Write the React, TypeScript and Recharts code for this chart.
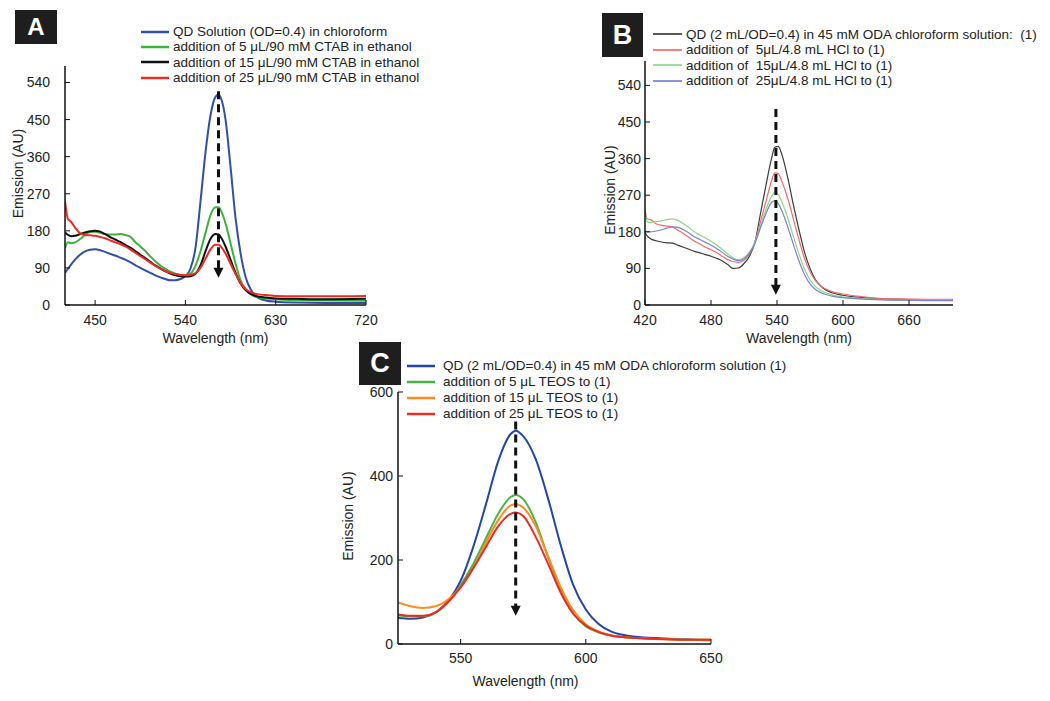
import React from 'react';
import { LineChart, Line, XAxis, YAxis, Legend, ReferenceLine, ReferenceDot } from 'recharts';

const FONT = '"Liberation Sans", Arial, Helvetica, sans-serif';

// ---- panel A: CTAB additions ----
const nmA = [420, 423, 426, 430, 435, 440, 445, 450, 455, 460, 465, 470, 475, 480, 485, 490, 495, 500, 505, 510, 515, 520, 525, 530, 535, 540, 545, 550, 555, 560, 565, 570, 573, 576, 580, 585, 590, 595, 600, 605, 610, 620, 630, 650, 680, 720];
const qdA = [78, 88, 98, 110, 122, 130, 134, 135, 133, 129, 124, 120, 115, 110, 104, 97, 90, 84, 78, 72, 67, 63, 60, 60, 63, 70, 88, 138, 250, 370, 460, 505, 510, 498, 450, 335, 210, 125, 68, 38, 22, 11, 8, 6, 5, 5];
const ctab5 = [138, 152, 150, 152, 160, 170, 177, 178, 175, 172, 171, 171, 172, 170, 166, 153, 142, 131, 118, 106, 96, 88, 81, 76, 73, 72, 76, 95, 130, 175, 218, 237, 237, 226, 198, 150, 100, 60, 38, 26, 20, 16, 14, 12, 11, 10];
const ctab15 = [176, 170, 167, 168, 172, 176, 179, 180, 178, 172, 165, 159, 153, 146, 139, 131, 122, 114, 105, 96, 89, 82, 76, 72, 70, 69, 70, 76, 96, 130, 160, 172, 171, 162, 142, 110, 78, 52, 36, 27, 22, 18, 16, 15, 14, 15];
const ctab25 = [252, 208, 202, 188, 174, 170, 169, 168, 165, 162, 157, 152, 148, 142, 135, 127, 119, 111, 103, 95, 88, 82, 78, 75, 73, 72, 73, 77, 90, 112, 135, 146, 146, 140, 125, 100, 75, 53, 39, 31, 27, 24, 22, 21, 21, 22];
const namesA = [
  'QD Solution (OD=0.4) in chloroform',
  'addition of 5 \u03bcL/90 mM CTAB in ethanol',
  'addition of 15 \u03bcL/90 mM CTAB in ethanol',
  'addition of 25 \u03bcL/90 mM CTAB in ethanol',
];
const colorsA = ['#2f4fa8', '#3cb43c', '#111111', '#ee2a24'];
const yTicksA = [0, 90, 180, 270, 360, 450, 540];
const xTicksA = [450, 540, 630, 720];

// ---- panel B: HCl additions ----
const nmB = [420, 422, 425, 430, 435, 440, 445, 450, 455, 460, 465, 470, 475, 480, 485, 490, 495, 500, 505, 510, 515, 520, 525, 530, 535, 538, 541, 545, 550, 555, 560, 565, 570, 575, 580, 590, 600, 615, 630, 650, 675, 700];
const odaB = [178, 170, 163, 158, 155, 153, 152, 147, 142, 137, 132, 128, 124, 120, 115, 109, 100, 90, 91, 102, 120, 155, 225, 295, 360, 388, 390, 365, 310, 245, 185, 130, 90, 62, 46, 30, 24, 19, 16, 14, 13, 12];
const hcl5 = [235, 212, 210, 200, 196, 194, 192, 184, 176, 166, 157, 150, 142, 136, 129, 120, 112, 107, 105, 110, 125, 155, 205, 255, 305, 325, 323, 300, 260, 210, 160, 115, 82, 60, 46, 33, 27, 21, 17, 15, 14, 14];
const hcl15 = [238, 205, 203, 205, 207, 210, 212, 208, 200, 190, 180, 172, 165, 157, 148, 137, 126, 116, 111, 116, 130, 155, 195, 235, 267, 277, 272, 250, 212, 168, 125, 88, 62, 45, 35, 25, 20, 16, 14, 12, 12, 12];
const hcl25 = [182, 180, 180, 182, 185, 189, 192, 191, 185, 177, 168, 161, 154, 147, 139, 130, 120, 113, 109, 114, 128, 152, 190, 225, 252, 256, 250, 228, 190, 148, 108, 75, 52, 38, 30, 22, 18, 15, 13, 12, 11, 11];
const namesB = [
  'QD (2 mL/OD=0.4) in 45 mM ODA chloroform solution:  (1)',
  'addition of  5\u03bcL/4.8 mL HCl to (1)',
  'addition of  15\u03bcL/4.8 mL HCl to (1)',
  'addition of  25\u03bcL/4.8 mL HCl to (1)',
];
const colorsB = ['#3a3a3a', '#f46a6a', '#88d888', '#7a80d8'];
const yTicksB = [0, 90, 180, 270, 360, 450, 540];
const xTicksB = [420, 480, 540, 600, 660];

// ---- panel C: TEOS additions ----
const nmC = [525, 530, 535, 540, 545, 550, 555, 560, 565, 570, 572, 575, 580, 585, 590, 595, 600, 605, 610, 620, 635, 650];
const odaC = [62, 60, 63, 75, 102, 150, 230, 330, 435, 500, 508, 495, 440, 345, 235, 140, 82, 48, 30, 17, 12, 9];
const teos5 = [68, 66, 66, 75, 100, 140, 190, 250, 310, 350, 355, 345, 290, 205, 128, 72, 42, 28, 20, 14, 11, 10];
const teos15 = [99, 90, 86, 90, 106, 135, 180, 240, 295, 330, 333, 325, 280, 208, 135, 80, 47, 30, 21, 14, 11, 10];
const teos25 = [70, 67, 67, 75, 100, 135, 180, 230, 280, 310, 313, 305, 255, 190, 122, 72, 44, 29, 20, 14, 11, 10];
const namesC = [
  'QD (2 mL/OD=0.4) in 45 mM ODA chloroform solution (1)',
  'addition of 5 \u03bcL TEOS to (1)',
  'addition of 15 \u03bcL TEOS to (1)',
  'addition of 25 \u03bcL TEOS to (1)',
];
const colorsC = ['#2446a8', '#46b446', '#ff8a1e', '#ee2a24'];
const yTicksC = [0, 200, 400, 600];
const xTicksC = [550, 600, 650];

// arrows: [wavelength, top of dashed line, bottom of dashed line, arrow tip]
const arrowA = [573, 519, 90, 66];
const arrowB = [539, 482, 47, 25];
const arrowC = [572, 530, 90, 67];

const toRows = (nm: number[], series: number[][]) =>
  nm.map((x, i) => {
    const row: Record<string, number> = { nm: x };
    series.forEach((s, k) => { row['s' + k] = s[i]; });
    return row;
  });

const dataA = toRows(nmA, [qdA, ctab5, ctab15, ctab25]);
const dataB = toRows(nmB, [odaB, hcl5, hcl15, hcl25]);
const dataC = toRows(nmC, [odaC, teos5, teos15, teos25]);

// legend keeps the order of the series, not alphabetical
const LegendRows = ({ payload, names, lineW, gap, rowH, lineWidth }: any) => {
  const items = [...(payload || [])].sort((a: any, b: any) => names.indexOf(a.value) - names.indexOf(b.value));
  return (
    <div style={{ fontSize: 13.5, color: '#222', fontFamily: FONT }}>
      {items.map((p: any) => (
        <div key={p.value} style={{ display: 'flex', alignItems: 'center', height: rowH }}>
          <svg width={lineW} height={4} style={{ display: 'block' }}>
            <line x1={0} y1={2} x2={lineW} y2={2} stroke={p.color} strokeWidth={lineWidth} />
          </svg>
          <span style={{ marginLeft: gap, whiteSpace: 'pre', lineHeight: `${rowH}px` }}>{p.value}</span>
        </div>
      ))}
    </div>
  );
};

const ArrowHead = (props: any) => {
  const { cx, cy } = props;
  if (cx == null || cy == null) return null;
  return <path d={`M${cx - 5},${cy - 10} L${cx + 5},${cy - 10} L${cx},${cy} Z`} fill="#111" />;
};

const PanelTag = ({ letter, left, top, w, h, size }: any) => (
  <div
    style={{
      position: 'absolute', left, top, width: w, height: h, background: '#1e1e1e', color: '#fff',
      fontFamily: FONT, fontWeight: 'bold', fontSize: size, display: 'flex', alignItems: 'center', justifyContent: 'center',
    }}
  >
    {letter}
  </div>
);

const axisStyle = { stroke: '#111', strokeWidth: 1.5 };
const tickStyle = { fontSize: 14, fill: '#222' };

interface PanelProps {
  data: Record<string, number>[];
  names: string[];
  colors: string[];
  width: number;
  height: number;
  margin: { top: number; right: number; left: number; bottom: number };
  yWidth: number;
  xHeight: number;
  xDomain: [number, number];
  yDomain: [number, number];
  xTicks: number[];
  yTicks: number[];
  yTickMargin: number;
  xTickMargin: number;
  strokeWidth: number;
  arrow: number[];
  legendPos: { left: number; top: number; lineW: number; gap: number; rowH: number };
  yLabelDx: number;
  yLabelDy: number;
  xLabelDx: number;
  xLabelOffset: number;
}

const Panel = (p: PanelProps) => (
  <LineChart width={p.width} height={p.height} data={p.data} margin={p.margin}>
    <XAxis
      type="number"
      dataKey="nm"
      domain={p.xDomain}
      ticks={p.xTicks}
      allowDataOverflow
      height={p.xHeight}
      axisLine={axisStyle}
      tickLine={{ stroke: '#111' }}
      tickSize={-5}
      tickMargin={p.xTickMargin}
      tick={tickStyle}
      label={{ value: 'Wavelength (nm)', position: 'insideBottom', offset: p.xLabelOffset, dx: p.xLabelDx, fontSize: 14, fill: '#222' }}
    />
    <YAxis
      type="number"
      domain={p.yDomain}
      ticks={p.yTicks}
      allowDataOverflow
      width={p.yWidth}
      axisLine={axisStyle}
      tickLine={{ stroke: '#111' }}
      tickSize={-5}
      tickMargin={p.yTickMargin}
      tick={tickStyle}
      label={{ value: 'Emission (AU)', angle: -90, position: 'center', dx: p.yLabelDx, dy: p.yLabelDy, fontSize: 14, fill: '#222' }}
    />
    <Legend
      layout="horizontal"
      verticalAlign="middle"
      align="center"
      wrapperStyle={{ top: p.legendPos.top, left: p.legendPos.left, width: 'max-content' }}
      content={(lp: any) => (
        <LegendRows
          payload={lp.payload}
          names={p.names}
          lineW={p.legendPos.lineW}
          gap={p.legendPos.gap}
          rowH={p.legendPos.rowH}
          lineWidth={p.strokeWidth + 0.5}
        />
      )}
    />
    {p.names.map((name, k) => (
      <Line
        key={name}
        type="monotone"
        dataKey={'s' + k}
        name={name}
        stroke={p.colors[k]}
        strokeWidth={p.strokeWidth}
        dot={false}
        isAnimationActive={false}
      />
    ))}
    <ReferenceLine
      segment={[{ x: p.arrow[0], y: p.arrow[1] }, { x: p.arrow[0], y: p.arrow[2] }]}
      stroke="#111"
      strokeWidth={3}
      strokeDasharray="8 5"
    />
    <ReferenceDot x={p.arrow[0]} y={p.arrow[3]} r={5} ifOverflow="visible" shape={ArrowHead} />
  </LineChart>
);

export default function App() {
  return (
    <div style={{ position: 'absolute', left: 0, top: 0, width: 1050, height: 701, background: '#fff', fontFamily: FONT }}>
      <div style={{ position: 'absolute', left: 0, top: 0 }}>
        <Panel
          data={dataA}
          names={namesA}
          colors={colorsA}
          width={390}
          height={350}
          margin={{ top: 66, right: 24, left: 0, bottom: 0 }}
          yWidth={65}
          xHeight={45}
          xDomain={[420, 720]}
          yDomain={[0, 580]}
          xTicks={xTicksA}
          yTicks={yTicksA}
          yTickMargin={20}
          xTickMargin={15}
          strokeWidth={2}
          arrow={arrowA}
          legendPos={{ left: 141, top: 24, lineW: 28, gap: 4, rowH: 15.3 }}
          yLabelDx={-14}
          yLabelDy={-12}
          xLabelDx={0}
          xLabelOffset={7}
        />
      </div>
      <div style={{ position: 'absolute', left: 600, top: 0 }}>
        <Panel
          data={dataB}
          names={namesB}
          colors={colorsB}
          width={450}
          height={350}
          margin={{ top: 61, right: 97, left: 0, bottom: 0 }}
          yWidth={45}
          xHeight={45}
          xDomain={[420, 700]}
          yDomain={[0, 600]}
          xTicks={xTicksB}
          yTicks={yTicksB}
          yTickMargin={9}
          xTickMargin={15}
          strokeWidth={1.2}
          arrow={arrowB}
          legendPos={{ left: 53, top: 26.5, lineW: 29, gap: 4, rowH: 15.5 }}
          yLabelDx={-12}
          yLabelDy={7}
          xLabelDx={0}
          xLabelOffset={7}
        />
      </div>
      <div style={{ position: 'absolute', left: 320, top: 330 }}>
        <Panel
          data={dataC}
          names={namesC}
          colors={colorsC}
          width={420}
          height={364}
          margin={{ top: 62, right: 29, left: 0, bottom: 0 }}
          yWidth={78}
          xHeight={50}
          xDomain={[525, 650]}
          yDomain={[0, 600]}
          xTicks={xTicksC}
          yTicks={yTicksC}
          yTickMargin={10}
          xTickMargin={14}
          strokeWidth={2}
          arrow={arrowC}
          legendPos={{ left: 87, top: 28, lineW: 28, gap: 8, rowH: 16 }}
          yLabelDx={-11}
          yLabelDy={-2}
          xLabelDx={-29}
          xLabelOffset={8}
        />
      </div>
      <PanelTag letter="A" left={15} top={10} w={42} h={34} size={24} />
      <PanelTag letter="B" left={602} top={13} w={41} h={44} size={27} />
      <PanelTag letter="C" left={359} top={342} w={42} h={43} size={27} />
    </div>
  );
}
